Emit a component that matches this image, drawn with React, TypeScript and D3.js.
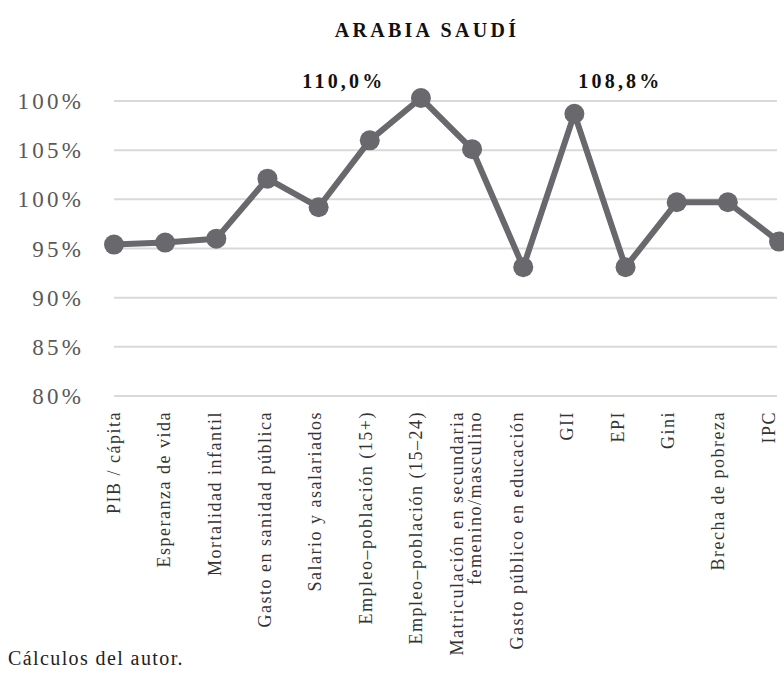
import React from "react";
import * as d3 from "d3";

const categories: string[][] = [
  ["PIB / cápita"],
  ["Esperanza de vida"],
  ["Mortalidad infantil"],
  ["Gasto en sanidad pública"],
  ["Salario y asalariados"],
  ["Empleo–población (15+)"],
  ["Empleo–población (15–24)"],
  ["Matriculación en secundaria", "femenino/masculino"],
  ["Gasto público en educación"],
  ["GII"],
  ["EPI"],
  ["Gini"],
  ["Brecha de pobreza"],
  ["IPC"],
];
const values: number[] = [95.4, 95.6, 96.0, 102.1, 99.2, 106.0, 110.3, 105.1, 93.1, 108.7, 93.1, 99.7, 99.7, 95.7];
const tickValues: number[] = [110, 105, 100, 95, 90, 85, 80];
const tickLabels: string[] = ["100%", "105%", "100%", "95%", "90%", "85%", "80%"];
const annotations = [
  { index: 6, text: "110,0%", dx: -77 },
  { index: 9, text: "108,8%", dx: 46 },
];
const title = "ARABIA SAUDÍ";
const source = "Cálculos del autor.";

const W = 784;
const H = 678;
const FONT = "'Liberation Serif', 'DejaVu Serif', serif";

export default function App() {
  const idx = d3.range(categories.length);
  const x = d3.scalePoint<number>().domain(idx).range([114, 779]);
  const xLabel = d3.scalePoint<number>().domain(idx).range([114, 769]);
  const y = d3.scaleLinear().domain([80, 110]).range([396, 101]);
  const line = d3.line<number>().x((_, i) => x(i)!).y((d) => y(d));
  const gridX0 = 114;
  const gridX1 = 777;

  return (
    <svg width={W} height={H} style={{ position: "absolute", left: 0, top: 0, background: "#fff" }} fontFamily={FONT}>
      <text x={427} y={37} textAnchor="middle" fontSize={20} fontWeight="bold" letterSpacing={3.3} fill="#111">
        {title}
      </text>
      {tickValues.map((t, i) => (
        <g key={i}>
          <line x1={gridX0} x2={gridX1} y1={y(t)} y2={y(t)} stroke="#d9d9d9" strokeWidth={2} />
          <text x={84} y={y(t)} dy="0.35em" textAnchor="end" fontSize={23} letterSpacing={3.2} fill="#595959">
            {tickLabels[i]}
          </text>
        </g>
      ))}
      <path d={line(values) ?? ""} fill="none" stroke="#69696d" strokeWidth={6} strokeLinejoin="round" />
      {values.map((v, i) => (
        <circle key={i} cx={x(i)} cy={y(v)} r={10} fill="#69696d" />
      ))}
      {annotations.map((a, i) => (
        <text key={i} x={x(a.index)! + a.dx} y={88} textAnchor="middle" fontSize={20} fontWeight="bold" letterSpacing={3.2} fill="#111">
          {a.text}
        </text>
      ))}
      {categories.map((lines, i) => {
        const n = lines.length;
        return (
          <g key={i} transform={`translate(${xLabel(i)},411) rotate(-90)`}>
            {lines.map((l, j) => (
              <text
                key={j}
                x={0}
                y={(j - (n - 1) / 2) * 18}
                dy="0.32em"
                textAnchor="end"
                fontSize={18}
                letterSpacing={1.5}
                fill="#333"
              >
                {l}
              </text>
            ))}
          </g>
        );
      })}
      <text x={8} y={665} fontSize={20} letterSpacing={1.4} fill="#222">
        {source}
      </text>
    </svg>
  );
}
